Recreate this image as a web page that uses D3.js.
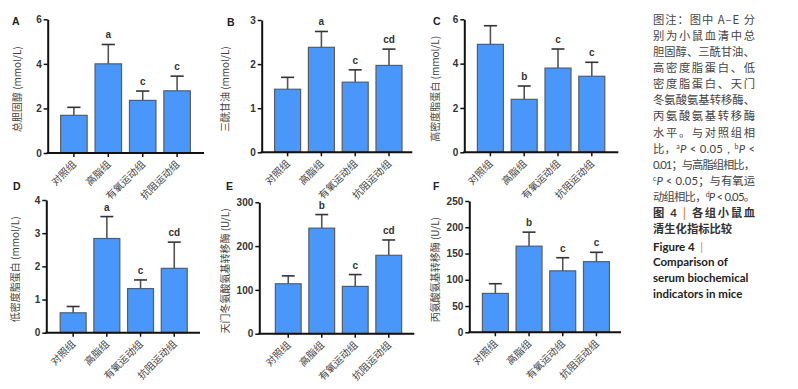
<!DOCTYPE html>
<html>
<head>
<meta charset="utf-8">
<script src="https://cdn.jsdelivr.net/npm/d3@7"></script>
<style>
  body { margin: 0; background: #fff; }
  svg { display: block; }
</style>
</head>
<body>
<svg id="chart" width="798" height="389"></svg>
<script>
// groups on the x axis (same for all six panels)
const groups = ['对照组', '高脂组', '有氧运动组', '抗阻运动组']

// A: total cholesterol
const tcMean = [1.69, 4.00, 2.36, 2.79]
const tcSd = [0.36, 0.87, 0.42, 0.66]
const tcSig = ['', 'a', 'c', 'c']
// B: triglyceride
const tgMean = [1.43, 2.38, 1.59, 1.97]
const tgSd = [0.27, 0.36, 0.28, 0.37]
const tgSig = ['', 'a', 'c', 'cd']
// C: HDL
const hdlMean = [4.87, 2.39, 3.80, 3.43]
const hdlSd = [0.84, 0.60, 0.86, 0.63]
const hdlSig = ['', 'b', 'c', 'c']
// D: LDL
const ldlMean = [0.60, 2.84, 1.33, 1.94]
const ldlSd = [0.19, 0.66, 0.26, 0.79]
const ldlSig = ['', 'a', 'c', 'cd']
// E: AST
const astMean = [114, 241, 108, 179]
const astSd = [18, 31, 27, 35]
const astSig = ['', 'b', 'c', 'cd']
// F: ALT
const altMean = [74, 164, 117, 134.5]
const altSd = [18.5, 26.7, 25, 17.8]
const altSig = ['', 'b', 'c', 'c']

const tcTicks = [0, 2, 4, 6]
const tgTicks = [0, 1, 2, 3]
const hdlTicks = [0, 2, 4, 6]
const ldlTicks = [0, 1, 2, 3, 4]
const astTicks = [0, 100, 200, 300]
const altTicks = [0, 50, 100, 150, 200, 250]

const captionLines = [
  '图注：图中 A–E 分',
  '别为小鼠血清中总',
  '胆固醇、三酰甘油、',
  '高密度脂蛋白、低',
  '密度脂蛋白、天门',
  '冬氨酸氨基转移酶、',
  '丙氨酸氨基转移酶',
  '水平。与对照组相'
]

const svg = d3.select('#chart')
const barColor = '#4a97fb'
const darkGray = '#555'
const numFont = '"Liberation Sans", Arial, sans-serif'
const cjkFont = '"Noto Sans CJK SC", sans-serif'

/**
 * Draws one bar panel with error bars and significance letters.
 */
function drawPanel (p) {
  const g = svg.append('g')

  const y = d3.scaleLinear().domain([0, d3.max(p.ticks)]).range([p.bottom, p.top])
  const x = d3.scaleBand()
    .domain(groups)
    .range([p.left + p.inset, p.left + p.inset + 4 * p.step])
    .paddingInner(0.23)
    .paddingOuter(0.115)

  const rows = groups.map((name, i) => ({ name, mean: p.mean[i], sd: p.sd[i], sig: p.sig[i] }))

  // barres
  g.selectAll('.bar')
    .data(rows)
    .join('rect')
    .attr('class', 'bar')
    .attr('x', d => x(d.name))
    .attr('y', d => y(d.mean))
    .attr('width', x.bandwidth())
    .attr('height', d => p.bottom - y(d.mean))
    .attr('fill', barColor)
    .attr('stroke', '#5c5c5c')
    .attr('stroke-width', 1.2)

  // barres d'erreur
  const cx = d => x(d.name) + x.bandwidth() / 2
  g.selectAll('.err')
    .data(rows)
    .join('line')
    .attr('x1', cx).attr('x2', cx)
    .attr('y1', d => y(d.mean)).attr('y2', d => y(d.mean + d.sd))
    .attr('stroke', darkGray).attr('stroke-width', 1.6)
  g.selectAll('.cap')
    .data(rows)
    .join('line')
    .attr('x1', d => cx(d) - x.bandwidth() / 4).attr('x2', d => cx(d) + x.bandwidth() / 4)
    .attr('y1', d => y(d.mean + d.sd)).attr('y2', d => y(d.mean + d.sd))
    .attr('stroke', '#333').attr('stroke-width', 1.6)

  // lettres de significativité
  g.selectAll('.sig')
    .data(rows)
    .join('text')
    .attr('x', cx)
    .attr('y', d => y(d.mean + d.sd) - 6)
    .attr('text-anchor', 'middle')
    .attr('font-family', numFont)
    .attr('font-weight', 'bold')
    .attr('font-size', 10)
    .attr('fill', '#333')
    .text(d => d.sig)

  // axe Y
  const yAxis = g.append('g')
    .attr('transform', `translate(${p.left},0)`)
    .call(d3.axisLeft(y).tickValues(p.ticks).tickFormat(d3.format('d'))
      .tickSize(4).tickSizeOuter(0).tickPadding(2))
  yAxis.select('.domain').attr('stroke', '#111').attr('stroke-width', 2)
  yAxis.selectAll('.tick line').attr('stroke', '#111').attr('stroke-width', 1.5)
  yAxis.selectAll('text')
    .attr('font-family', numFont)
    .attr('font-weight', 'bold')
    .attr('font-size', 10)
    .attr('fill', '#333')

  // axe X
  const xAxis = g.append('g')
    .attr('transform', `translate(0,${p.bottom})`)
    .call(d3.axisBottom(x).tickSize(4).tickSizeOuter(0))
  xAxis.select('.domain').attr('d', `M${p.left - 1},0H${p.right}`)
    .attr('stroke', '#111').attr('stroke-width', 2)
  xAxis.selectAll('.tick line').attr('stroke', '#111').attr('stroke-width', 1.5)
  xAxis.selectAll('text')
    .attr('x', 0).attr('y', 0).attr('dy', 0)
    .attr('transform', 'translate(3,12) rotate(-45)')
    .style('text-anchor', 'end')
    .attr('font-family', cjkFont)
    .attr('font-size', 10)
    .attr('fill', '#444')

  // titre de l'axe Y
  const midY = (p.top + p.bottom) / 2 + 3
  g.append('text')
    .attr('transform', `translate(${p.labelX},${midY}) rotate(-90)`)
    .attr('text-anchor', 'middle')
    .attr('dy', '0.35em')
    .attr('font-family', cjkFont)
    .attr('font-size', 10)
    .attr('fill', '#444')
    .text(p.yLabel)

  // lettre du panneau
  g.append('text')
    .attr('x', p.tagX)
    .attr('y', p.tagY)
    .attr('font-family', numFont)
    .attr('font-weight', 'bold')
    .attr('font-size', 10.5)
    .attr('fill', '#222')
    .text(p.tag)
}

drawPanel({ tag: 'A', tagX: 12, tagY: 25, left: 47.7, right: 204, top: 19.3, bottom: 153, inset: 9, step: 34.4, labelX: 17, ticks: tcTicks, mean: tcMean, sd: tcSd, sig: tcSig, yLabel: '总胆固醇 (mmol/L)' })
drawPanel({ tag: 'B', tagX: 227, tagY: 26, left: 261.7, right: 412.3, top: 20, bottom: 152.3, inset: 9, step: 33.8, labelX: 225, ticks: tgTicks, mean: tgMean, sd: tgSd, sig: tgSig, yLabel: '三酰甘油 (mmol/L)' })
drawPanel({ tag: 'C', tagX: 433, tagY: 25, left: 464.3, right: 618.3, top: 19.3, bottom: 152.3, inset: 9.2, step: 33.8, labelX: 435.5, ticks: hdlTicks, mean: hdlMean, sd: hdlSd, sig: hdlSig, yLabel: '高密度脂蛋白 (mmol/L)' })
drawPanel({ tag: 'D', tagX: 13, tagY: 190, left: 46.3, right: 200, top: 200, bottom: 332.7, inset: 10, step: 33.7, labelX: 15, ticks: ldlTicks, mean: ldlMean, sd: ldlSd, sig: ldlSig, yLabel: '低密度脂蛋白 (mmol/L)' })
drawPanel({ tag: 'E', tagX: 226, tagY: 190, left: 259.3, right: 414.3, top: 202.3, bottom: 333.7, inset: 12.2, step: 33.5, labelX: 225.7, ticks: astTicks, mean: astMean, sd: astSd, sig: astSig, yLabel: '天门冬氨酸氨基转移酶 (U/L)' })
drawPanel({ tag: 'F', tagX: 433, tagY: 190, left: 469.3, right: 621, top: 201, bottom: 332.3, inset: 9.2, step: 33.7, labelX: 435, ticks: altTicks, mean: altMean, sd: altSd, sig: altSig, yLabel: '丙氨酸氨基转移酶 (U/L)' })

// légende de la figure
const capX = 653
const capW = 102
const lineH = 16.15
const baseY = y => 23.5 + y * lineH
const cap = svg.append('g')
  .attr('font-family', cjkFont)
  .attr('font-size', 11.3)
  .attr('fill', '#444')

captionLines.forEach((t, i) => {
  const txt = cap.append('text').attr('x', capX).attr('y', baseY(i)).text(t)
  if (i !== 2) txt.attr('textLength', capW).attr('lengthAdjust', 'spacing')
})

// lignes avec P en italique et exposants
function richLine (i, parts, justify) {
  const txt = cap.append('text').attr('x', capX).attr('y', baseY(i))
  parts.forEach(([s, kind]) => {
    const ts = txt.append('tspan').text(s)
    if (kind === 'sup') ts.attr('font-size', 7).attr('baseline-shift', 'super').attr('font-family', 'Lato, sans-serif')
    if (kind === 'it') ts.attr('font-style', 'italic').attr('font-family', 'Lato, sans-serif')
    if (kind === 'lat') ts.attr('font-family', 'Lato, sans-serif')
  })
  if (justify) txt.attr('textLength', capW).attr('lengthAdjust', 'spacing')
}
richLine(8, [['比，', ''], ['a', 'sup'], ['P', 'it'], [' < 0.05，', 'lat'], ['b', 'sup'], ['P', 'it'], [' <', 'lat']], true)
richLine(9, [['0.01', 'lat'], ['；与高脂组相比，', '']], true)
richLine(10, [['c', 'sup'], ['P', 'it'], [' < 0.05', 'lat'], ['；与有氧运', '']], true)
richLine(11, [['动组相比，', ''], ['d', 'sup'], ['P', 'it'], [' < 0.05', 'lat'], ['。', '']], true)

// titre de la figure
const title1 = cap.append('text').attr('x', capX).attr('y', baseY(12))
  .attr('fill', '#333').attr('font-weight', 'bold')
  .attr('textLength', capW).attr('lengthAdjust', 'spacing')
title1.append('tspan').text('图 ')
title1.append('tspan').attr('font-family', 'Lato, sans-serif').text('4 ')
title1.append('tspan').attr('fill', '#e8822f').text('| ')
title1.append('tspan').text('各组小鼠血')
cap.append('text').attr('x', capX).attr('y', baseY(13))
  .attr('fill', '#333').attr('font-weight', 'bold')
  .text('清生化指标比较')

const engLines = ['Figure 4  ', 'Comparison of', 'serum biochemical', 'indicators in mice']
engLines.forEach((t, i) => {
  const txt = cap.append('text')
    .attr('x', capX)
    .attr('y', 250.5 + i * 15.8)
    .attr('font-family', 'Lato, sans-serif')
    .attr('font-weight', 'bold')
    .attr('font-size', 11.5)
    .attr('fill', '#222')
    .style('white-space', 'pre')
    .text(t)
  if (i === 0) txt.append('tspan').attr('fill', '#e8822f').attr('font-weight', 'normal').text('|')
})
</script>
</body>
</html>
